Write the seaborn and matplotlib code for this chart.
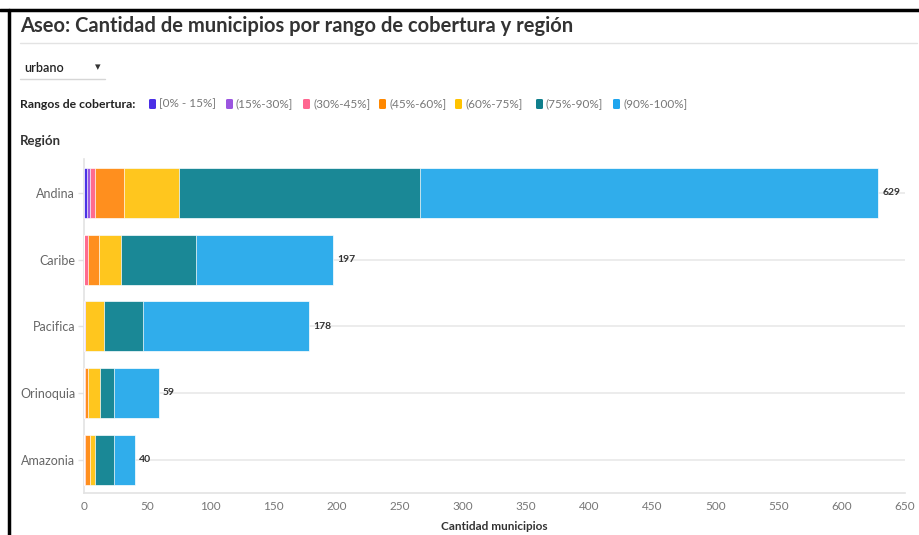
import numpy as np
import pandas as pd
import seaborn as sns
import matplotlib
matplotlib.use("Agg")
import matplotlib.pyplot as plt
from matplotlib.patches import FancyBboxPatch
from matplotlib.lines import Line2D

# ---------------- data ----------------
regions = ["Andina", "Caribe", "Pacifica", "Orinoquia", "Amazonia"]
range_labels = ["[0% - 15%]", "(15%-30%]", "(30%-45%]", "(45%-60%]",
                "(60%-75%]", "(75%-90%]", "(90%-100%]"]
r_0_15 = [2, 0, 0, 0, 0]
r_15_30 = [3, 0, 1, 0, 0]
r_30_45 = [4, 3, 0, 1, 1]
r_45_60 = [23, 9, 0, 2, 4]
r_60_75 = [43, 17, 15, 10, 4]
r_75_90 = [191, 60, 31, 11, 15]
r_90_100 = [363, 108, 131, 35, 16]
series = [r_0_15, r_15_30, r_30_45, r_45_60, r_60_75, r_75_90, r_90_100]
colors = ["#4a33e4", "#9c5ae2", "#ff6b8e", "#ff8f1e", "#ffc61e", "#1a8896", "#30adeb"]
legend_colors = ["#4a2fe6", "#9b55e0", "#ff6690", "#ff8800", "#ffc300", "#0f7f8c", "#1fa5ee"]
xticks = [0, 50, 100, 150, 200, 250, 300, 350, 400, 450, 500, 550, 600, 650]

# cumulative values for stacking
vals = np.array(series)
cum = np.cumsum(vals, axis=0)
rows = []
for i, lab in enumerate(range_labels):
    for j, reg in enumerate(regions):
        rows.append({"region": reg, "rango": lab, "value": vals[i, j], "cum": cum[i, j]})
df = pd.DataFrame(rows)

# ---------------- figure ----------------
sns.set_theme(style="white")
plt.rcParams["font.family"] = ["Lato", "DejaVu Sans"]

W, H = 919, 535
fig = plt.figure(figsize=(W / 100, H / 100), dpi=100)

def fx(px):
    return px / W

def fy(py):
    return 1 - py / H

ax = fig.add_axes([fx(84), fy(493), fx(905) - fx(84), fy(159.5) - fy(493)])

# horizontal gridlines at each category (behind bars)
for k in range(len(regions)):
    ax.axhline(k, color="#e9e9e9", lw=1.2, zorder=0)

# draw stacked bars: widest cumulative first
for i in reversed(range(len(range_labels))):
    sub = df[df["rango"] == range_labels[i]]
    sns.barplot(data=sub, x="cum", y="region", order=regions, orient="h",
                color=colors[i], saturation=1, width=0.75,
                edgecolor="white", linewidth=0.5, ax=ax, zorder=3)

# total labels on widest container
ax.bar_label(ax.containers[0], fmt="%d", padding=3, fontsize=7.5,
             fontweight="bold", color="#333333")

ax.set_xlim(0, 650)
ax.set_ylim(len(regions) - 0.5, -0.5)
ax.set_xticks(xticks)
ax.set_xticklabels([str(t) for t in xticks], color="#777777", fontsize=8.5)
ax.tick_params(axis="x", length=0, pad=6)
ax.tick_params(axis="y", length=4.3, width=1, color="#e3e3e3", pad=2,
               labelsize=9, labelcolor="#666666", left=True)
ax.set_xlabel("Cantidad municipios", fontsize=8.5, fontweight="bold",
              color="#333333", labelpad=6)
ax.set_ylabel("")
for s in ["top", "right"]:
    ax.spines[s].set_visible(False)
ax.spines["left"].set_color("#e3e3e3")
ax.spines["left"].set_linewidth(1.2)
ax.spines["bottom"].set_color("#e3e3e3")
ax.spines["bottom"].set_linewidth(1.2)
ax.grid(False)

# ---------------- header ----------------
fig.text(fx(20), fy(26), "Aseo: Cantidad de municipios por rango de cobertura y región",
         fontsize=14.5, fontweight="bold", color="#333333", va="center", ha="left")
fig.add_artist(Line2D([fx(20), fx(917)], [fy(43), fy(43)], color="#e3e3e3", lw=1))

fig.text(fx(24), fy(68), "urbano", fontsize=9, fontweight="semibold", color="#222222",
         va="center", ha="left")
fig.text(fx(98), fy(67), "▾", fontsize=8, color="#333333", va="center", ha="center",
         family=["DejaVu Sans"])
fig.add_artist(Line2D([fx(20), fx(105)], [fy(79), fy(79)], color="#d6d6d6", lw=1))

fig.text(fx(20), fy(104), "Rangos de cobertura:", fontsize=8.8, fontweight="bold",
         color="#222222", va="center", ha="left")
sq_x = [149, 226, 303, 379, 455, 536, 613]
for px, lab, c in zip(sq_x, range_labels, legend_colors):
    fig.add_artist(FancyBboxPatch((fx(px), fy(109)), fx(7), fy(0) - fy(10),
                                  boxstyle="round,pad=0,rounding_size=0.002",
                                  transform=fig.transFigure, facecolor=c,
                                  edgecolor="none"))
    fig.text(fx(px + 10), fy(104), lab, fontsize=8.5, color="#777777",
             va="center", ha="left")

fig.text(fx(20), fy(141), "Región", fontsize=9.5, fontweight="bold",
         color="#333333", va="center", ha="left")

# outer frame (top and left borders)
fig.add_artist(Line2D([0, 1], [fy(10), fy(10)], color="black", lw=2.5))
fig.add_artist(Line2D([fx(9), fx(9)], [0, fy(10)], color="black", lw=2.5))

fig.savefig("out.png", dpi=100, facecolor="white")
